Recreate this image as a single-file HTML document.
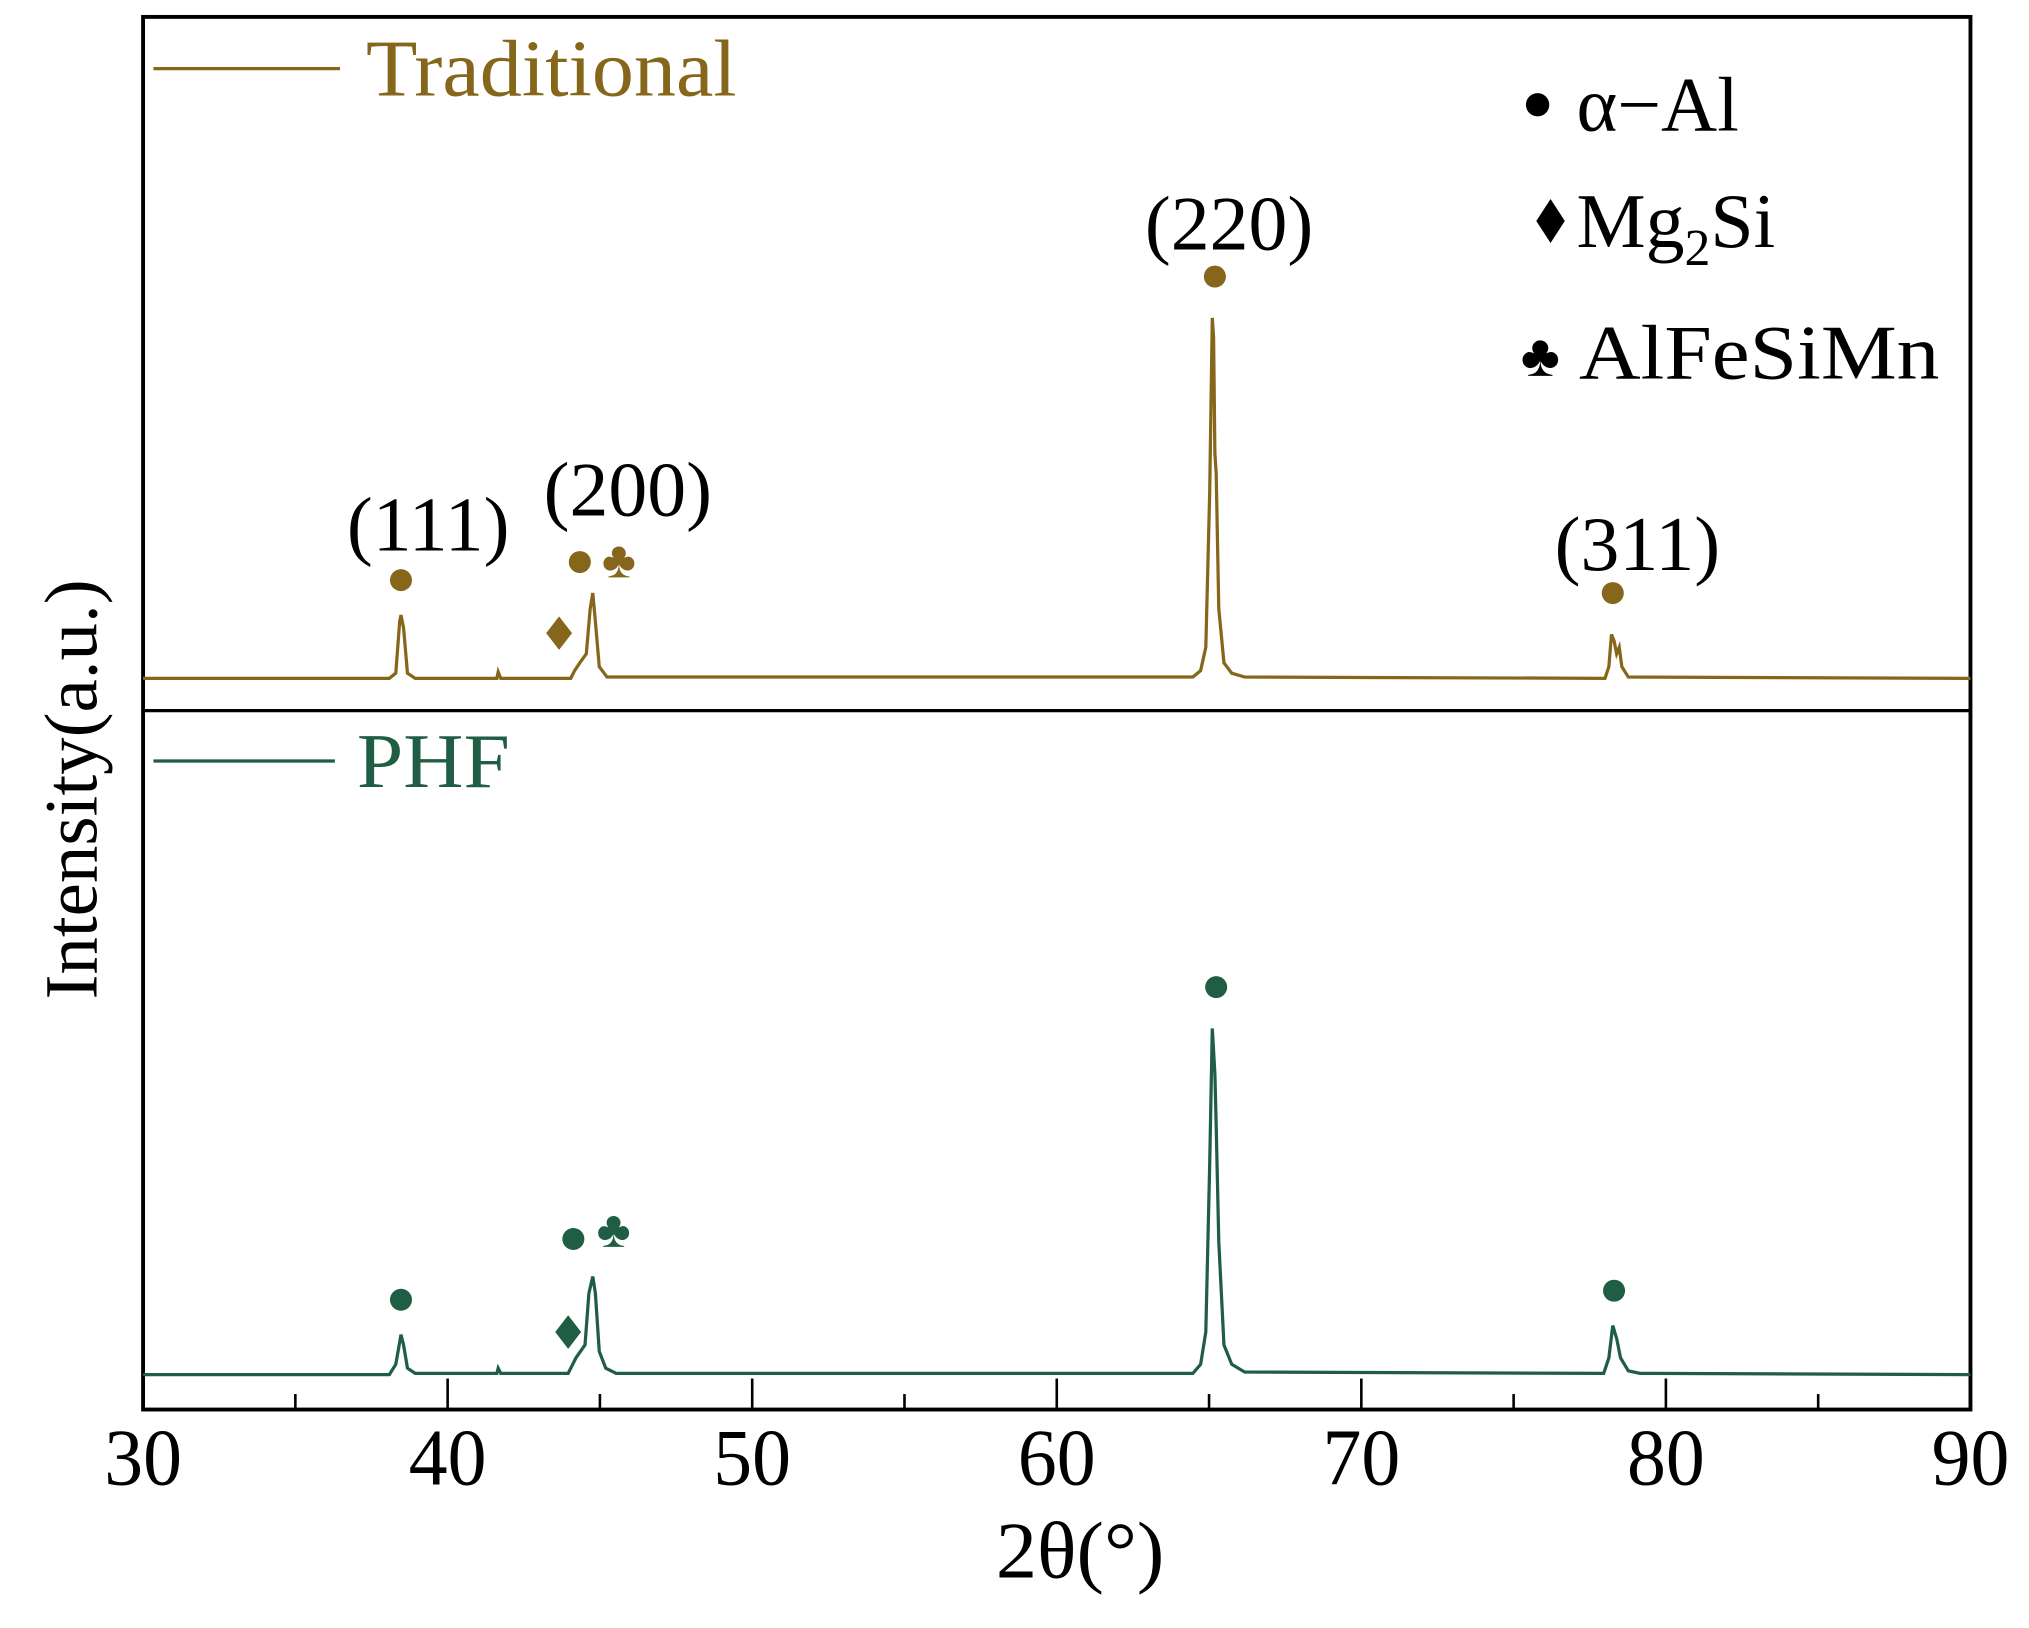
<!DOCTYPE html>
<html><head><meta charset="utf-8"><style>
html,body{margin:0;padding:0;background:#fff}
svg{display:block}
text{font-family:"Liberation Serif",serif}
</style></head><body>
<svg width="2029" height="1628" viewBox="0 0 1560 1252" preserveAspectRatio="none" xmlns="http://www.w3.org/2000/svg">
<rect x="0" y="0" width="1560" height="1252" fill="#fff"/>
<g transform="translate(110,13) scale(0.99645,0.9935) translate(-110,-12)">
<rect x="110" y="12" width="1410" height="1078" fill="none" stroke="#000" stroke-width="3"/>
<line x1="110" y1="549" x2="1520" y2="549" stroke="#000" stroke-width="2.5"/>
<g stroke="#000" stroke-width="2">
<line x1="345" y1="1090" x2="345" y2="1066"/><line x1="580" y1="1090" x2="580" y2="1066"/>
<line x1="815" y1="1090" x2="815" y2="1066"/><line x1="1050" y1="1090" x2="1050" y2="1066"/>
<line x1="1285" y1="1090" x2="1285" y2="1066"/>
<line x1="227.5" y1="1090" x2="227.5" y2="1078"/><line x1="462.5" y1="1090" x2="462.5" y2="1078"/>
<line x1="697.5" y1="1090" x2="697.5" y2="1078"/><line x1="932.5" y1="1090" x2="932.5" y2="1078"/>
<line x1="1167.5" y1="1090" x2="1167.5" y2="1078"/><line x1="1402.5" y1="1090" x2="1402.5" y2="1078"/>
</g>
<g font-size="62" text-anchor="middle" fill="#000">
<text x="110" y="1148" textLength="60" lengthAdjust="spacingAndGlyphs">30</text>
<text x="345" y="1148" textLength="60" lengthAdjust="spacingAndGlyphs">40</text>
<text x="580" y="1148" textLength="60" lengthAdjust="spacingAndGlyphs">50</text>
<text x="815" y="1148" textLength="60" lengthAdjust="spacingAndGlyphs">60</text>
<text x="1050" y="1148" textLength="60" lengthAdjust="spacingAndGlyphs">70</text>
<text x="1285" y="1148" textLength="60" lengthAdjust="spacingAndGlyphs">80</text>
<text x="1520" y="1148" textLength="60" lengthAdjust="spacingAndGlyphs">90</text>
</g>
<text x="833" y="1220" font-size="62" text-anchor="middle" textLength="130" lengthAdjust="spacingAndGlyphs">2θ(°)</text>
<text transform="translate(74,610) rotate(-90)" font-size="58" text-anchor="middle">Intensity(a.u.)</text>
<path fill="none" stroke="#85661a" stroke-width="2.5" d="M110,524 L300,524 L305,520 L308,480 L309,475 L311,485 L314,520 L320,524 L383,524 L384,519 L386,524 L440,524 L443,518 L447,512 L452,505 L455,470 L457,458 L459,480 L462,515 L468,523 L920,523 L926,518 L930,500 L933,380 L935,245 L936,260 L937,350 L938,365 L940,470 L944,512 L950,520 L960,523 L1238,524 L1241,515 L1243,490 L1245,495 L1247,505 L1249,500 L1251,515 L1256,523 L1520,524"/>
<path fill="none" stroke="#1f5e45" stroke-width="2.5" d="M110,1063 L300,1063 L305,1055 L309,1032 L311,1040 L314,1058 L320,1062 L383,1062 L384,1058 L386,1062 L438,1062 L441,1056 L444,1050 L451,1040 L454,1000 L457,987 L459,1000 L462,1045 L467,1058 L475,1062 L920,1062 L926,1055 L930,1030 L933,900 L935,795 L937,830 L938,870 L940,960 L944,1040 L950,1055 L960,1061 L1237,1062 L1241,1050 L1244,1025 L1247,1035 L1250,1050 L1256,1060 L1265,1062 L1520,1063"/>
<line x1="118" y1="52" x2="262" y2="52" stroke="#85661a" stroke-width="2.5"/>
<text x="282" y="73" font-size="62" fill="#85661a" textLength="286" lengthAdjust="spacingAndGlyphs">Traditional</text>
<line x1="118" y1="588" x2="258" y2="588" stroke="#1f5e45" stroke-width="2.5"/>
<text x="275" y="608" font-size="60" fill="#1f5e45" textLength="118" lengthAdjust="spacingAndGlyphs">PHF</text>
<g fill="#000">
<circle cx="1186" cy="80" r="9"/>
<text x="1216" y="100" font-size="60">α−Al</text>
<polygon points="1196,153 1207,170 1196,187 1185,170"/>
<text x="1216" y="190" font-size="60">Mg<tspan font-size="40" dy="14">2</tspan><tspan dy="-14">Si</tspan></text>
<text x="1173" y="290" font-size="46">♣</text>
<text x="1218" y="292" font-size="60" textLength="278" lengthAdjust="spacingAndGlyphs">AlFeSiMn</text>
</g>
<g fill="#85661a">
<circle cx="309" cy="448" r="8.5"/><circle cx="447" cy="434" r="8.5"/>
<circle cx="937" cy="213" r="8.5"/><circle cx="1244" cy="458" r="8.5"/>
<polygon points="431,476 441,489 431,502 421,489"/>
<text x="464" y="446" font-size="40">♣</text>
</g>
<g font-size="60" text-anchor="middle">
<text x="330" y="425">(111)</text><text x="484" y="398">(200)</text>
<text x="948" y="192">(220)</text><text x="1263" y="440">(311)</text>
</g>
<g fill="#1f5e45">
<circle cx="309" cy="1005" r="8.5"/><circle cx="442" cy="958" r="8.5"/>
<circle cx="938" cy="763" r="8.5"/><circle cx="1245" cy="998" r="8.5"/>
<polygon points="438,1017 448,1030 438,1043 428,1030"/>
<text x="460" y="964" font-size="40">♣</text>
</g>
</g>
</svg>
</body></html>
